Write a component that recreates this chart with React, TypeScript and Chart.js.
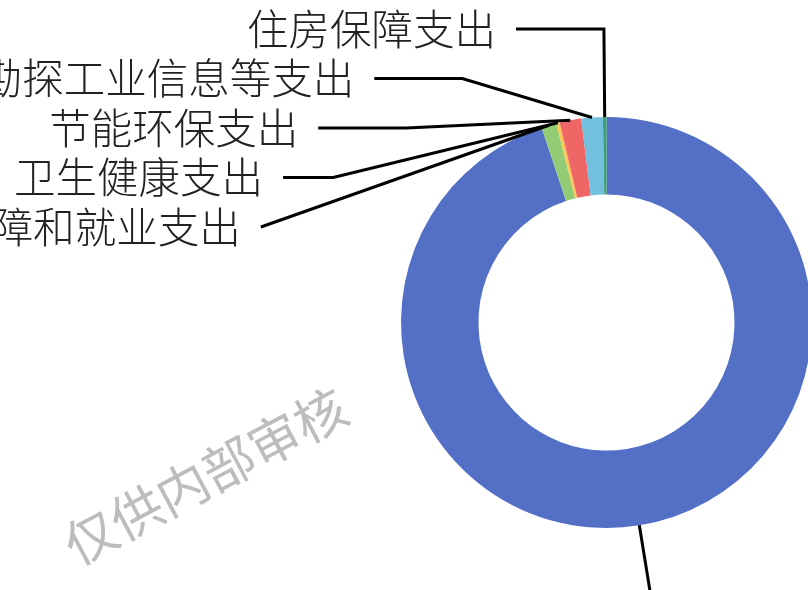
import React, { useEffect, useRef } from 'react';
import { Chart, registerables } from 'chart.js';

Chart.register(...registerables);

// ---- data ----
const categories = [
  '一般公共服务支出',
  '社会保障和就业支出',
  '卫生健康支出',
  '节能环保支出',
  '资源勘探工业信息等支出',
  '住房保障支出',
];
const values = [94.89, 1.17, 0.28, 1.69, 1.69, 0.28];
const colors = ['#5470c6', '#91cc75', '#fac858', '#ee6666', '#73c0de', '#3ba272'];
const watermarkText = '仅供内部审核';

// ---- style / layout constants ----
const CANVAS_W = 1100;
const CANVAS_H = 900;
const AREA = { left: 401, top: 117, size: 411 };
const LINE_LEN = 88;
const LINE_LEN2 = 88;
const LABEL_DIST = 20;
const LABEL_H = 49.5;
const LABEL_FONT = '300 41.5px "Noto Sans CJK SC", "Noto Sans", sans-serif';
const WM_FONT = '52px "Noto Sans CJK SC", "Noto Sans", sans-serif';

type Pt = [number, number];

function projectPointToLine(x1: number, y1: number, x2: number, y2: number, x: number, y: number, out: number[]) {
  const dx = x - x1;
  const dy = y - y1;
  let dx1 = x2 - x1;
  let dy1 = y2 - y1;
  const lineLen = Math.sqrt(dx1 * dx1 + dy1 * dy1);
  dx1 /= lineLen;
  dy1 /= lineLen;
  const t = dx * dx1 + dy * dy1;
  const ox = (out[0] = x1 + t * dx1);
  const oy = (out[1] = y1 + t * dy1);
  return Math.sqrt((ox - x) * (ox - x) + (oy - y) * (oy - y));
}

function limitTurnAngle(pts: Pt[], minTurnDeg: number) {
  const minTurn = (minTurnDeg / 180) * Math.PI;
  const [p0, p1, p2] = pts;
  let d1x = p0[0] - p1[0], d1y = p0[1] - p1[1];
  let d2x = p2[0] - p1[0], d2y = p2[1] - p1[1];
  const l1 = Math.hypot(d1x, d1y), l2 = Math.hypot(d2x, d2y);
  if (l1 < 1e-3 || l2 < 1e-3) return;
  d1x /= l1; d1y /= l1; d2x /= l2; d2y /= l2;
  const c = d1x * d2x + d1y * d2y;
  if (Math.cos(minTurn) < c) {
    const out = [0, 0];
    const d = projectPointToLine(p1[0], p1[1], p2[0], p2[1], p0[0], p0[1], out);
    const k = d / Math.tan(Math.PI - minTurn);
    let nx = out[0] + d2x * k, ny = out[1] + d2y * k;
    const t = p2[0] !== p1[0] ? (nx - p1[0]) / (p2[0] - p1[0]) : (ny - p1[1]) / (p2[1] - p1[1]);
    if (isNaN(t)) return;
    if (t < 0) { nx = p1[0]; ny = p1[1]; } else if (t > 1) { nx = p2[0]; ny = p2[1]; }
    pts[1] = [nx, ny];
  }
}

function limitSurfaceAngle(pts: Pt[], normal: Pt, maxDeg: number) {
  const maxA = (maxDeg / 180) * Math.PI;
  const [p0, p1, p2] = pts;
  let d1x = p1[0] - p0[0], d1y = p1[1] - p0[1];
  let d2x = p2[0] - p1[0], d2y = p2[1] - p1[1];
  const l1 = Math.hypot(d1x, d1y), l2 = Math.hypot(d2x, d2y);
  if (l1 < 1e-3 || l2 < 1e-3) return;
  d1x /= l1; d1y /= l1; d2x /= l2; d2y /= l2;
  const c = d1x * normal[0] + d1y * normal[1];
  if (c < Math.cos(maxA)) {
    const out = [0, 0];
    const d = projectPointToLine(p1[0], p1[1], p2[0], p2[1], p0[0], p0[1], out);
    const angle2 = Math.acos(d2x * normal[0] + d2y * normal[1]);
    const newAngle = Math.PI / 2 + angle2 - maxA;
    let nx: number, ny: number;
    if (newAngle >= Math.PI / 2) {
      nx = p2[0]; ny = p2[1];
    } else {
      const k = d / Math.tan(Math.PI / 2 - newAngle);
      nx = out[0] + d2x * k;
      ny = out[1] + d2y * k;
      const t = p2[0] !== p1[0] ? (nx - p1[0]) / (p2[0] - p1[0]) : (ny - p1[1]) / (p2[1] - p1[1]);
      if (isNaN(t)) return;
      if (t < 0) { nx = p1[0]; ny = p1[1]; } else if (t > 1) { nx = p2[0]; ny = p2[1]; }
    }
    pts[1] = [nx, ny];
  }
}

interface Item {
  dir: number;
  normal: Pt;
  pts: Pt[];
  lx: number;
  ly: number;
  text: string;
}

function computeLabels(chart: any): Item[] {
  const meta = chart.getDatasetMeta(0);
  const labels: string[] = chart.data.labels;
  let cx = 0, cy = 0, r = 0;
  const items: Item[] = meta.data.map((arc: any, i: number) => {
    const p = arc.getProps(['x', 'y', 'startAngle', 'endAngle', 'outerRadius'], true);
    cx = p.x; cy = p.y; r = p.outerRadius;
    const mid = (p.startAngle + p.endAngle) / 2;
    const dx = Math.cos(mid), dy = Math.sin(mid);
    const x1 = p.x + r * dx, y1 = p.y + r * dy;
    const x2 = p.x + (r + LINE_LEN) * dx, y2 = p.y + (r + LINE_LEN) * dy;
    const dir = dx < 0 ? -1 : 1;
    const x3 = x2 + dir * LINE_LEN2;
    return {
      dir,
      normal: [dx, dy] as Pt,
      pts: [[x1, y1], [x2, y2], [x3, y2]] as Pt[],
      lx: x3 + dir * LABEL_DIST,
      ly: y2,
      text: labels[i],
    };
  });

  for (const side of [-1, 1]) {
    const list = items.filter((it) => it.dir === side);
    if (list.length < 2) continue;
    list.sort((a, b) => a.ly - b.ly);
    let last = -Infinity;
    let adjusted = false;
    for (const it of list) {
      const top = it.ly - LABEL_H / 2;
      if (top < last) {
        it.ly += last - top;
        adjusted = true;
      }
      last = it.ly + LABEL_H / 2;
    }
    if (!adjusted) continue;
    const semis = [
      { list: [] as Item[], maxY: 0, rB: 0 },
      { list: [] as Item[], maxY: 0, rB: 0 },
    ];
    const rA = r + LINE_LEN;
    for (const it of list) {
      const semi = it.ly > cy ? semis[1] : semis[0];
      const dy = Math.abs(it.ly - cy);
      if (dy >= semi.maxY) {
        const dx = it.lx - cx - LINE_LEN2 * side;
        semi.rB = Math.abs(dx) < rA ? Math.sqrt((dy * dy) / (1 - (dx * dx) / rA / rA)) : rA;
        semi.maxY = dy;
      }
      semi.list.push(it);
    }
    for (const semi of semis) {
      const rB2 = semi.rB * semi.rB;
      for (const it of semi.list) {
        const dy = Math.abs(it.ly - cy);
        const ddx = Math.sqrt(Math.max(0, 1 - (dy * dy) / rB2) * rA * rA);
        it.lx = cx + (ddx + LINE_LEN2) * side;
      }
    }
  }

  for (const it of items) {
    const dist = it.pts[1][0] - it.pts[2][0];
    it.pts[2][0] = it.lx - it.dir * LABEL_DIST;
    it.pts[1][0] = it.pts[2][0] + dist;
    it.pts[1][1] = it.ly;
    it.pts[2][1] = it.ly;
    limitTurnAngle(it.pts, 90);
    limitSurfaceAngle(it.pts, it.normal, 90);
  }
  return items;
}

const outerLabelPlugin = {
  id: 'outerLabels',
  afterDatasetsDraw(chart: any) {
    const ctx: CanvasRenderingContext2D = chart.ctx;
    const items = computeLabels(chart);
    ctx.save();
    ctx.strokeStyle = '#000';
    ctx.lineWidth = 3;
    ctx.lineJoin = 'miter';
    for (const it of items) {
      ctx.beginPath();
      ctx.moveTo(it.pts[0][0], it.pts[0][1]);
      ctx.lineTo(it.pts[1][0], it.pts[1][1]);
      ctx.lineTo(it.pts[2][0], it.pts[2][1]);
      ctx.stroke();
    }
    ctx.fillStyle = '#222';
    ctx.font = LABEL_FONT;
    ctx.textBaseline = 'middle';
    for (const it of items) {
      ctx.textAlign = it.dir < 0 ? 'right' : 'left';
      ctx.fillText(it.text, it.lx, it.ly);
    }
    ctx.restore();
  },
  afterDraw(chart: any) {
    const ctx: CanvasRenderingContext2D = chart.ctx;
    ctx.save();
    ctx.translate(205.5, 476);
    ctx.rotate((-28 * Math.PI) / 180);
    ctx.font = WM_FONT;
    ctx.fillStyle = '#bdbdbd';
    ctx.textAlign = 'center';
    ctx.textBaseline = 'middle';
    ctx.fillText(watermarkText, 0, 0);
    ctx.restore();
  },
};

export default function App() {
  const ref = useRef<HTMLCanvasElement>(null);
  useEffect(() => {
    if (!ref.current) return;
    const chart = new Chart(ref.current, {
      type: 'doughnut',
      data: {
        labels: categories,
        datasets: [
          {
            data: values,
            backgroundColor: colors,
            borderWidth: 0,
            hoverBorderWidth: 0,
            hoverOffset: 0,
            offset: 0,
          },
        ],
      },
      options: {
        animation: false,
        responsive: false,
        maintainAspectRatio: false,
        cutout: '62.3%',
        layout: {
          padding: {
            left: AREA.left,
            top: AREA.top,
            right: CANVAS_W - AREA.left - AREA.size,
            bottom: CANVAS_H - AREA.top - AREA.size,
          },
        },
        plugins: {
          legend: { display: false },
          tooltip: { enabled: false },
        },
        events: [],
      },
      plugins: [outerLabelPlugin],
    } as any);
    return () => chart.destroy();
  }, []);

  return (
    <div
      style={{
        position: 'fixed',
        left: 0,
        top: 0,
        width: 808,
        height: 590,
        overflow: 'hidden',
        background: '#fff',
      }}
    >
      <canvas ref={ref} width={CANVAS_W} height={CANVAS_H} style={{ display: 'block', width: CANVAS_W, height: CANVAS_H }} />
    </div>
  );
}
